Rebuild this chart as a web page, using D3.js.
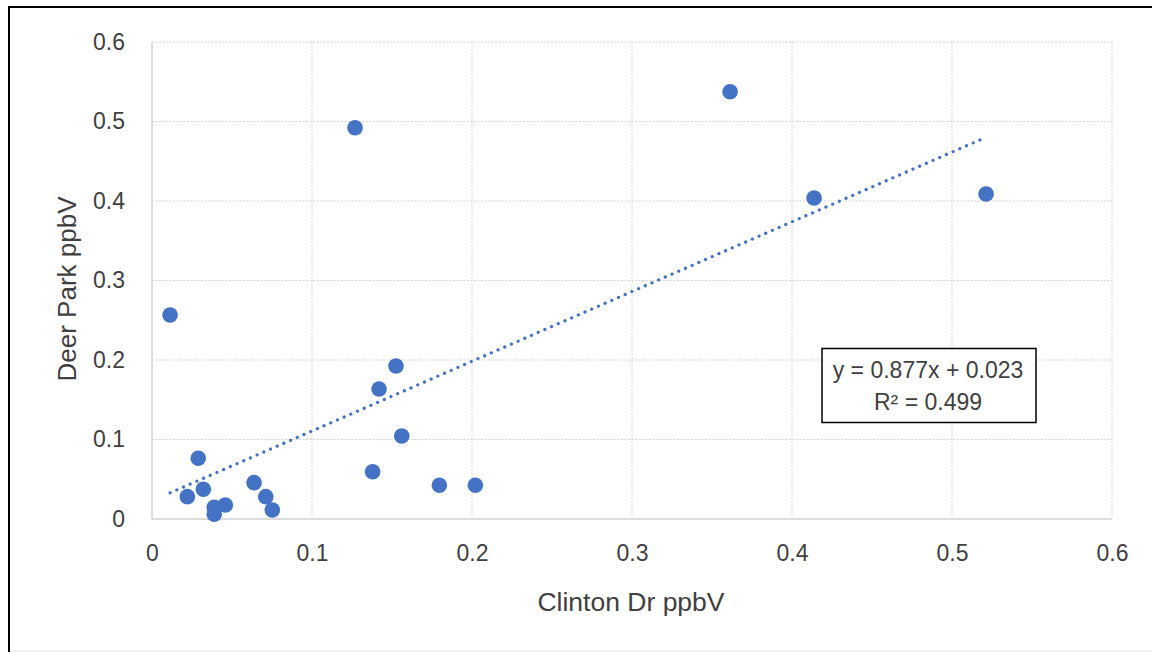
<!DOCTYPE html>
<html>
<head>
<meta charset="utf-8">
<script src="https://cdn.jsdelivr.net/npm/d3@7"></script>
<style>
html,body{margin:0;padding:0;background:#fff;}
svg{display:block;}
text{font-family:"Liberation Sans",Arial,sans-serif;}
</style>
</head>
<body>
<svg id="chart" width="1152" height="652"></svg>
<script>
// Data
const clintonDr = [0.0113, 0.1269, 0.3613, 0.4138, 0.5213, 0.1525, 0.1419, 0.0289, 0.0221, 0.0321, 0.0389, 0.0389, 0.0458, 0.0638, 0.0711, 0.0752, 0.1379, 0.1561, 0.1796, 0.2021];
const deerPark  = [0.2566, 0.4922, 0.5375, 0.4038, 0.4088, 0.1925, 0.1635, 0.0764, 0.0281, 0.0374, 0.0147, 0.0059, 0.0176, 0.0457, 0.0281, 0.0113, 0.0595, 0.1044, 0.0424, 0.0424];
const xTicks = [0, 0.1, 0.2, 0.3, 0.4, 0.5, 0.6];
const yTicks = [0, 0.1, 0.2, 0.3, 0.4, 0.5, 0.6];
const trendSlope = 0.877;
const trendIntercept = 0.023;
const equationLines = ["y = 0.877x + 0.023", "R² = 0.499"];
const xTitle = "Clinton Dr ppbV";
const yTitle = "Deer Park ppbV";

(function () {
const svg = d3.select("#chart");
const pL = 152, pR = 1112, pT = 42, pB = 519;

// outer frame
svg.append("line").attr("x1", 8).attr("x2", 1152).attr("y1", 7).attr("y2", 7).attr("stroke", "#000").attr("stroke-width", 2);
svg.append("line").attr("x1", 9).attr("x2", 9).attr("y1", 6).attr("y2", 652).attr("stroke", "#000").attr("stroke-width", 2);
svg.append("line").attr("x1", 10).attr("x2", 1152).attr("y1", 651).attr("y2", 651).attr("stroke", "#e3e3e3").attr("stroke-width", 1);

const x = d3.scaleLinear().domain([0, 0.6]).range([pL, pR]);
const y = d3.scaleLinear().domain([0, 0.6]).range([pB, pT]);

// gridlines
const grid = svg.append("g");
grid.selectAll(".vg").data(xTicks.filter(d => d > 0)).join("line")
  .attr("x1", d => x(d)).attr("x2", d => x(d)).attr("y1", pT).attr("y2", pB)
  .attr("stroke", "#d4d4d4").attr("stroke-width", 1).attr("stroke-dasharray", "2 1.5");
grid.selectAll(".hg").data(yTicks.filter(d => d > 0)).join("line")
  .attr("x1", pL).attr("x2", pR).attr("y1", d => y(d)).attr("y2", d => y(d))
  .attr("stroke", "#d4d4d4").attr("stroke-width", 1).attr("stroke-dasharray", "2 1.5");

// axis lines
svg.append("line").attr("x1", pL).attr("x2", pR).attr("y1", pB).attr("y2", pB).attr("stroke", "#d0d0d0").attr("stroke-width", 1.5);
svg.append("line").attr("x1", pL).attr("x2", pL).attr("y1", pT).attr("y2", pB).attr("stroke", "#d0d0d0").attr("stroke-width", 1.5);

// axes (labels only)
const fmt = d => d === 0 ? "0" : d3.format(".1f")(d);
const xAxis = svg.append("g").attr("transform", `translate(0,${pB})`)
  .call(d3.axisBottom(x).tickValues(xTicks).tickFormat(fmt).tickSize(0).tickPadding(34));
const yAxis = svg.append("g").attr("transform", `translate(${pL},0)`)
  .call(d3.axisLeft(y).tickValues(yTicks).tickFormat(fmt).tickSize(0).tickPadding(27));
[xAxis, yAxis].forEach(a => {
  a.select(".domain").remove();
  a.selectAll("text").attr("font-family", "Liberation Sans, Arial, sans-serif").attr("font-size", 23).attr("fill", "#404040");
});
xAxis.selectAll("text").attr("dy", "0.32em").attr("y", 35);

// trendline
const xMin = d3.min(clintonDr), xMax = d3.max(clintonDr);
svg.append("line")
  .attr("x1", x(xMin)).attr("y1", y(trendSlope * xMin + trendIntercept))
  .attr("x2", x(xMax)).attr("y2", y(trendSlope * xMax + trendIntercept))
  .attr("stroke", "#4472C4").attr("stroke-width", 3.2)
  .attr("stroke-linecap", "round").attr("stroke-dasharray", "0.1 7.2");

// points
svg.append("g").selectAll("circle").data(clintonDr.map((d, i) => [d, deerPark[i]])).join("circle")
  .attr("cx", d => x(d[0])).attr("cy", d => y(d[1])).attr("r", 7.8)
  .attr("fill", "#4472C4");

// equation box
const box = svg.append("g");
box.append("rect").attr("x", 822).attr("y", 348.5).attr("width", 214).attr("height", 74)
  .attr("fill", "#fff").attr("stroke", "#000").attr("stroke-width", 1.5);
box.selectAll("text").data(equationLines).join("text")
  .attr("x", 928).attr("y", (d, i) => 369.5 + i * 32).attr("dy", "0.35em")
  .attr("text-anchor", "middle").attr("font-size", 23).attr("fill", "#404040").text(d => d);

// axis titles
svg.append("text").attr("x", 631).attr("y", 602).attr("dy", "0.35em").attr("text-anchor", "middle")
  .attr("font-size", 26.5).attr("fill", "#404040").text(xTitle);
svg.append("text").attr("transform", "translate(67,289) rotate(-90)").attr("dy", "0.35em").attr("text-anchor", "middle")
  .attr("font-size", 26).attr("fill", "#404040").text(yTitle);
})();
</script>
</body>
</html>
